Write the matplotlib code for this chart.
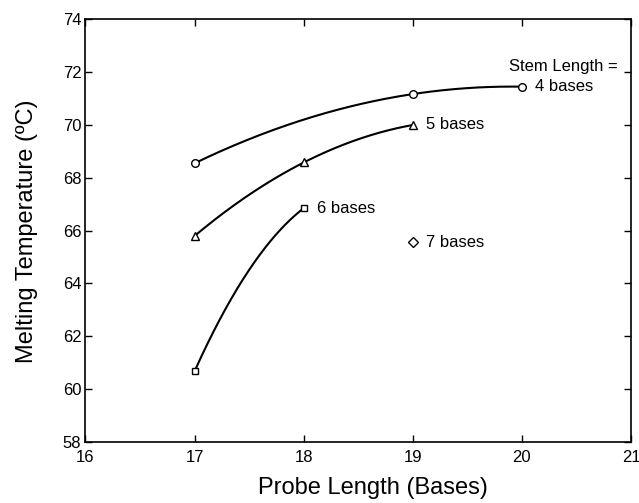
import numpy as np
import matplotlib
matplotlib.use("Agg")
import matplotlib.pyplot as plt

plt.rcParams['font.family'] = ['Liberation Sans', 'DejaVu Sans']

# Data (probe length in bases, melting temperature in degC)
stem4_x = [17, 19, 20]
stem4_y = [68.55, 71.17, 71.45]
stem5_x = [17, 18, 19]
stem5_y = [65.80, 68.58, 70.00]
stem6_x = [17, 18]
stem6_y = [60.68, 66.85]
stem7_x = [19]
stem7_y = [65.56]

labels = ["4 bases", "5 bases", "6 bases", "7 bases"]
markers = ["o", "^", "s", "D"]
# quadratic bend for series with only two points (fit shape)
stem6_bend = -3.0

xticks = [16, 17, 18, 19, 20, 21]
yticks = [58, 60, 62, 64, 66, 68, 70, 72, 74]

fig = plt.figure(figsize=(6.39, 5.03), dpi=100)
ax = fig.add_axes([0.1338, 0.1213, 0.9875 - 0.1338, 0.9616 - 0.1213])


def quad_curve(xs, ys, bend=None):
    xs = np.asarray(xs, float)
    ys = np.asarray(ys, float)
    xx = np.linspace(xs.min(), xs.max(), 200)
    if len(xs) >= 3:
        c = np.polyfit(xs, ys, 2)
        return xx, np.polyval(c, xx)
    t = (xx - xs[0]) / (xs[1] - xs[0])
    return xx, ys[0] + (ys[1] - ys[0]) * t - bend * t * (1 - t)


for xs, ys, bend in [(stem4_x, stem4_y, None), (stem5_x, stem5_y, None),
                     (stem6_x, stem6_y, stem6_bend)]:
    cx, cy = quad_curve(xs, ys, bend)
    ax.plot(cx, cy, color='black', lw=1.5, solid_capstyle='round')

series = [(stem4_x, stem4_y), (stem5_x, stem5_y), (stem6_x, stem6_y), (stem7_x, stem7_y)]
msizes = [5.5, 6, 5, 5]
for (xs, ys), m, ms in zip(series, markers, msizes):
    ax.plot(xs, ys, linestyle='none', marker=m, ms=ms, mfc='white',
            mec='black', mew=1.0, zorder=3)

# annotations next to last point of each series
fs = 12
for (xs, ys), lab in zip(series, labels):
    ax.annotate(lab, (xs[-1], ys[-1]), xytext=(9.5, 0), textcoords='offset points',
                ha='left', va='center', fontsize=fs)
ax.annotate("Stem Length =", (stem4_x[-1], stem4_y[-1]), xytext=(69, 14.8),
            textcoords='offset points', ha='right', va='center', fontsize=fs)

ax.set_xlim(16, 21)
ax.set_ylim(58, 74)
ax.set_xticks(xticks)
ax.set_yticks(yticks)
ax.tick_params(direction='in', top=True, right=True, length=5, width=1.0,
               labelsize=12, pad=3)
ax.tick_params(axis='x', pad=6)
for s in ax.spines.values():
    s.set_linewidth(1.2)

ax.set_xlabel("Probe Length (Bases)", fontsize=17)
ax.set_ylabel("Melting Temperature (ºC)", fontsize=17)
ax.xaxis.set_label_coords(0.526, -0.083)
ax.xaxis.label.set_va('top')
ax.yaxis.set_label_coords(-0.087, 0.499)
ax.yaxis.label.set_va('bottom')

fig.savefig("out.png", dpi=100)
